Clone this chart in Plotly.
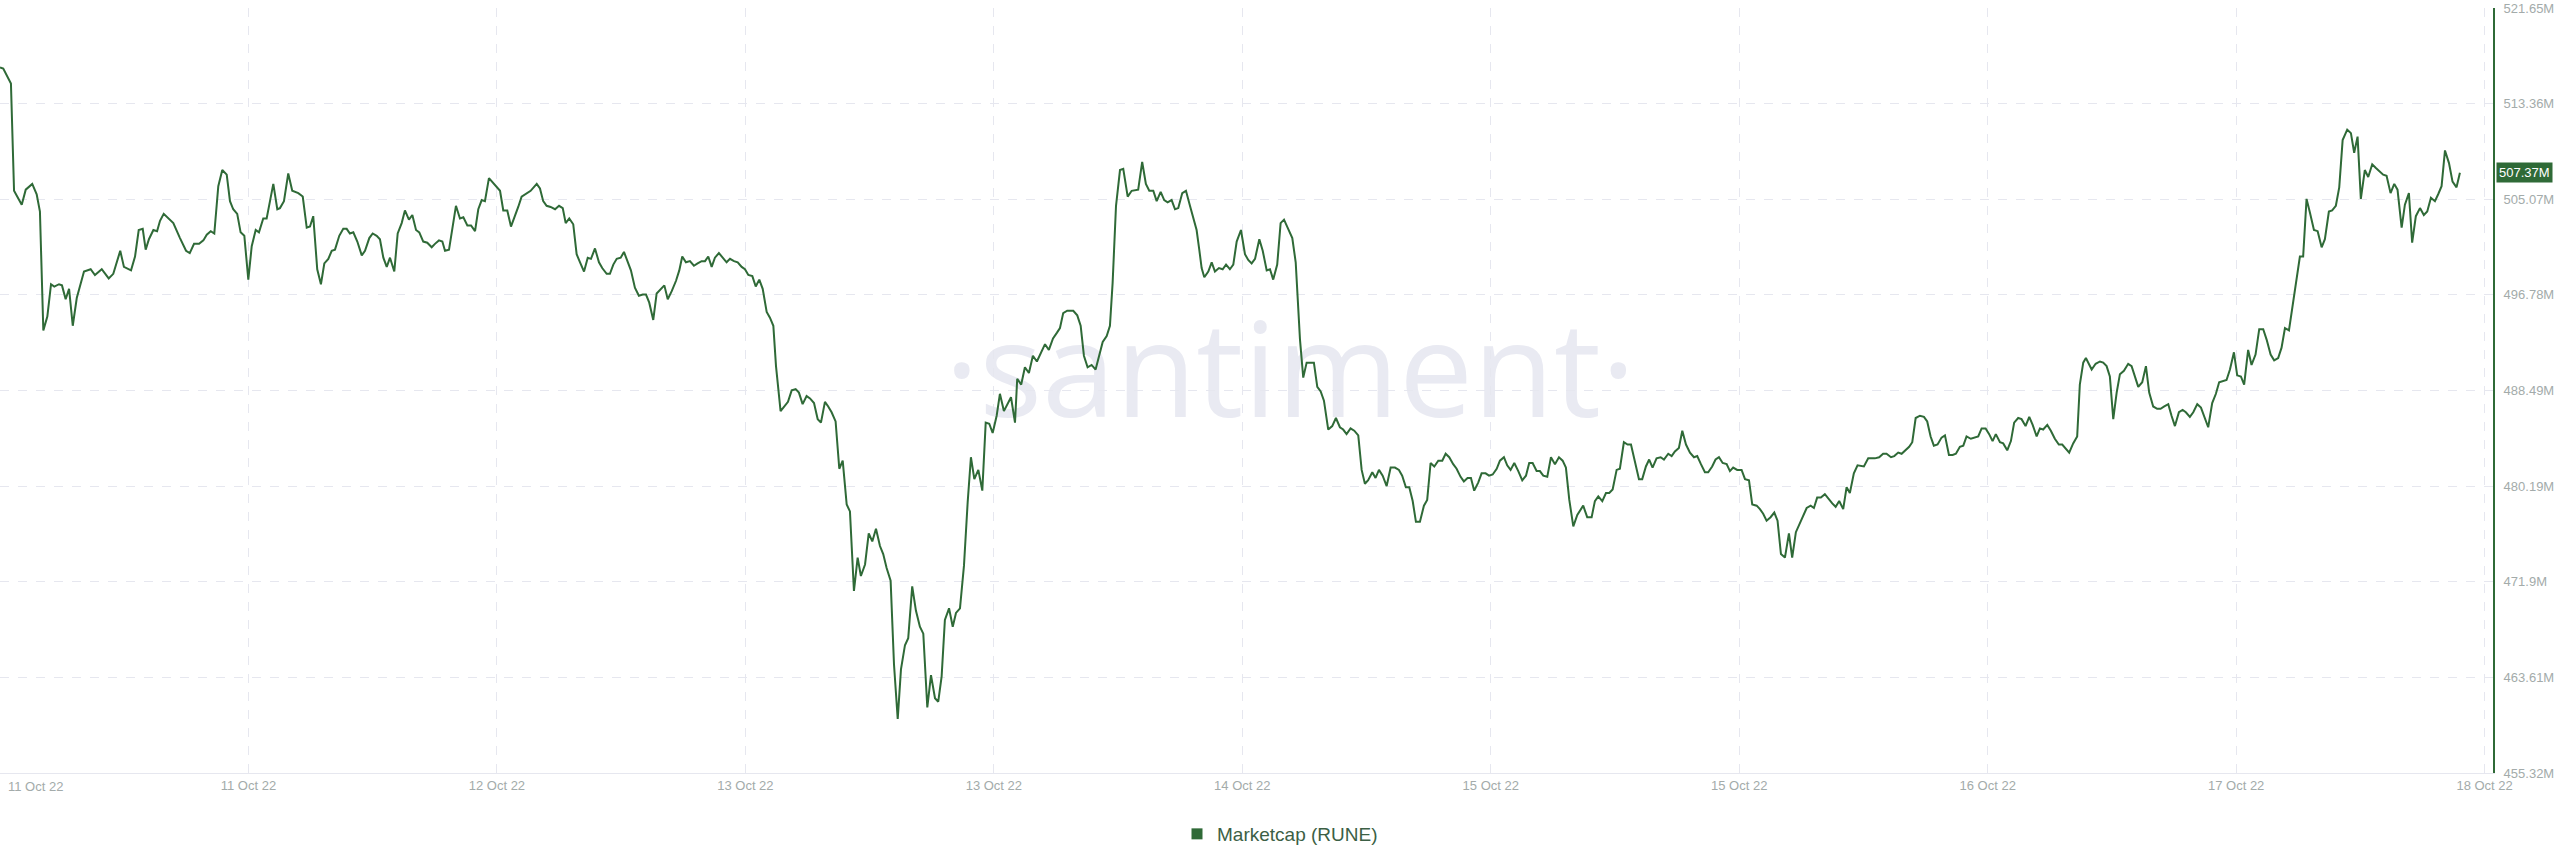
import pandas as pd
import plotly.graph_objects as go

START = pd.Timestamp("2022-10-11 00:00")

# ---- Marketcap (RUNE), millions USD; time as hours after START ----
seg1_hours = [0.00,0.22,0.74,0.95,1.47,1.74,2.18,2.48,2.70,2.93,3.20,3.45,3.67,3.99,4.19,4.44,4.67,4.92,5.19,5.68,
              6.13,6.42,6.88,7.35,7.66,8.13,8.38,8.86,9.13,9.38,9.65,9.85,10.07,10.37,10.62,10.82,11.07,11.38,11.72,12.17,
              12.58,12.83,13.12,13.46,13.75,13.98,14.25,14.49,14.76,15.03,15.33,15.55,15.77,16.04,16.27,16.52,16.79,17.02,17.29,17.51,
              17.80,18.03,18.48,18.75]
seg1_mcap = [516.5,516.4,515.1,505.8,504.6,505.9,506.4,505.5,504.0,493.7,494.9,497.7,497.5,497.7,497.6,496.4,497.3,494.1,496.5,498.8,
             499.0,498.5,499.0,498.2,498.6,500.6,499.2,498.9,500.1,502.4,502.5,500.7,501.6,502.4,502.3,503.2,503.8,503.4,503.0,501.7,
             500.6,500.4,501.2,501.2,501.5,502.0,502.3,502.1,506.2,507.6,507.2,504.9,504.2,503.8,502.2,501.9,498.1,501.0,502.4,502.2,
             503.4,503.4,506.4,504.2]

seg2_hours = [18.93,19.20,19.49,19.76,20.17,20.47,20.74,20.96,21.18,21.45,21.70,21.93,22.20,22.43,22.65,22.94,23.21,23.44,23.66,23.89,
              24.16,24.46,24.68,24.97,25.20,25.47,25.69,25.92,26.15,26.37,26.66,26.89,27.16,27.38,27.65,27.88,28.13,28.35,28.62,28.89,
              29.19,29.41,29.68,29.91,30.09,30.36,30.61,30.83,31.10,31.33,31.60,31.85,32.12,32.34,32.57,32.79,33.06,33.35,33.81,34.03,
              34.30,34.55,34.82,35.04,35.27,35.61,35.88,36.29,36.51,36.73,36.96,37.23,37.53,37.80,38.05,38.25,38.49,38.76,38.99]
seg2_mcap = [504.3,504.9,507.3,505.8,505.6,505.3,502.6,502.7,503.6,499.0,497.7,499.5,499.9,500.6,500.7,501.9,502.5,502.5,502.1,502.2,
             501.4,500.2,500.6,501.7,502.1,501.9,501.6,500.0,499.2,500.0,498.8,502.1,503.0,504.1,503.3,503.7,502.4,502.2,501.4,501.3,
             500.9,501.2,501.5,501.4,500.6,500.7,502.9,504.5,503.4,503.5,502.8,502.8,502.3,504.2,505.0,504.9,506.9,506.5,505.8,504.1,
             504.1,502.7,503.6,504.4,505.3,505.6,505.8,506.4,506.0,504.9,504.5,504.4,504.2,504.5,504.3,503.0,503.4,502.9,500.3]

seg3_hours = [39.22,39.49,39.74,39.96,40.23,40.50,40.72,41.02,41.24,41.47,41.70,41.97,42.19,42.41,42.66,42.93,43.20,43.46,43.68,43.90,
              44.17,44.40,44.67,44.92,45.15,45.42,45.71,45.93,46.13,46.38,46.65,46.92,47.17,47.44,47.67,47.89,48.12,48.34,48.61,48.86,
              49.13,49.36,49.63,49.88,50.15,50.37,50.60,50.87,51.10,51.34,51.57,51.84,52.06,52.29,52.47,52.78,53.01,53.28,53.53,53.80,
              54.02,54.27,54.54,54.77,55.04,55.29,55.51,55.78,56.00,56.23,56.50,56.75,56.98,57.25,57.47]
seg3_mcap = [499.6,498.8,500.0,499.9,500.8,499.6,499.1,498.6,498.6,499.4,499.9,500.0,500.5,499.7,498.9,497.4,496.7,496.8,496.8,496.1,
             494.6,496.9,497.3,497.6,496.4,497.1,498.0,498.9,500.1,499.6,499.7,499.3,499.5,499.7,499.7,500.1,499.2,500.0,500.4,500.0,
             499.6,499.9,499.7,499.6,499.2,499.0,498.5,498.4,497.5,498.1,497.3,495.3,494.8,494.1,490.6,486.7,487.1,487.5,488.5,488.6,
             488.3,487.3,488.0,487.8,487.4,486.0,485.7,487.5,487.1,486.6,485.8,481.7,482.4,478.6,478.0]

seg4_hours = [57.74,57.99,58.21,58.49,58.74,58.98,59.23,59.50,59.72,59.95,60.22,60.45,60.70,60.92,61.19,61.41,61.68,61.93,62.20,62.43,
              62.70,62.95,63.22,63.44,63.67,63.89,64.17,64.42,64.64,64.91,65.18,65.43,65.65,65.88,66.15,66.42,66.65,66.89,67.12,67.39,
              67.61,67.88,68.36,68.63,68.78,69.05,69.30,69.57,69.84,70.11,70.38,70.66,70.92,71.20,71.47]
seg4_mcap = [471.1,474.0,472.4,473.4,476.1,475.4,476.5,475.0,474.3,473.1,472.0,464.7,460.0,464.3,466.4,467.0,471.5,469.4,468.0,467.4,
             461.0,463.8,461.8,461.5,463.7,468.6,469.6,468.0,469.2,469.6,473.3,478.8,482.7,480.8,481.6,479.8,485.7,485.6,484.8,486.3,
             488.2,486.7,487.9,485.7,489.5,489.0,490.5,490.0,491.5,491.0,491.8,492.5,492.0,493.0,493.5]

seg5_hours = [71.67,71.89,72.16,72.57,72.84,73.07,73.29,73.54,73.81,74.08,74.31,74.56,74.83,75.05,75.23,75.46,75.73,75.95,76.25,76.52,
              76.96,77.23,77.48,77.71,77.98,78.21,78.48,78.72,78.95,79.22,79.45,79.67,79.94,80.19,80.46,80.73,80.91,81.09,81.25,81.43,
              81.70,81.93,82.15,82.42,82.67,82.90,83.16,83.39,83.62,83.91,84.18,84.40,84.63,84.86,85.15,85.38,85.65,85.87,86.09,86.36,
              86.59,86.82,87.11,87.38,87.61,87.74,87.90,88.12,88.35,88.84]
seg5_mcap = [493.9,495.2,495.4,495.4,495.0,494.1,491.5,490.5,490.7,490.3,491.5,492.7,493.2,494.1,497.8,504.5,507.6,507.7,505.3,505.8,
             505.9,508.3,506.4,505.8,505.8,504.9,505.7,505.0,504.8,505.0,504.2,504.3,505.6,505.8,504.5,503.3,502.4,500.7,499.1,498.3,
             498.8,499.6,498.8,499.1,499.0,499.4,499.0,499.4,501.4,502.4,500.3,499.8,499.5,499.9,501.6,500.6,498.9,499.0,498.1,499.4,
             503.0,503.3,502.5,501.7,499.6,496.4,492.9,489.6,490.9,490.9]

seg6_hours = [89.07,89.30,89.52,89.81,90.08,90.33,90.60,90.82,91.05,91.32,91.57,91.84,92.07,92.29,92.51,92.79,93.01,93.24,93.49,93.76,
              94.03,94.32,94.59,94.81,95.06,95.29,95.52,95.74,96.01,96.28,96.50,96.73,96.98,97.25,97.52,97.75,97.99,98.26,98.49,98.76,
              98.98,99.23,99.46,99.68,99.95,100.18,100.45,100.68,100.93,101.20,101.42,101.69,101.91,102.14,102.39,102.66,102.93,103.18,103.40,103.63,
              103.90,104.12,104.35,104.62,104.87,105.14,105.41,105.66,105.88,106.11,106.38,106.65,107.05,107.32,107.62,107.84,108.07,108.34,108.59]
seg6_mcap = [488.8,488.4,487.6,485.1,485.4,486.1,485.3,485.1,484.7,485.2,485.0,484.6,481.6,480.4,480.7,481.4,480.9,481.6,481.1,480.2,
             481.8,481.8,481.6,481.1,480.1,480.1,478.9,477.1,477.1,478.5,479.0,482.2,481.9,482.4,482.4,483.0,482.7,482.1,481.7,481.0,
             480.6,480.9,480.9,479.8,480.5,481.3,481.3,481.1,481.2,481.7,482.4,482.7,482.0,481.6,482.2,481.5,480.7,481.1,482.2,482.2,
             481.5,481.5,481.1,481.0,482.7,482.1,482.7,482.4,481.8,479.0,476.7,477.7,478.5,477.5,477.5,478.9,479.3,478.9,479.6]

seg7_hours = [108.81,109.04,109.31,109.53,109.80,110.05,110.28,110.55,110.82,111.04,111.29,111.51,111.74,112.01,112.29,112.51,112.80,113.03,113.25,113.52,
              113.75,114.00,114.27,114.54,114.76,115.01,115.28,115.50,115.77,116.00,116.23,116.48,116.75,116.97,117.19,117.46,117.76,117.99,118.26,118.48,
              118.78,119.00,119.22,119.45,119.72,119.97,120.19,120.42,120.69,120.96,121.18,121.43,121.70,121.93,122.16,122.43,122.65,122.87,123.12,123.39,
              123.62,123.89,124.12,124.36,124.63,124.86,125.08,125.35,125.60]
seg7_mcap = [479.6,479.9,481.6,481.7,484.0,483.8,483.8,482.2,480.8,480.8,481.9,482.5,481.8,482.6,482.7,482.5,483.0,482.8,483.2,483.5,
             485.0,483.8,483.1,482.7,482.8,482.1,481.4,481.4,481.9,482.5,482.7,482.2,482.1,481.5,481.8,481.6,481.6,480.8,480.7,478.6,
             478.5,478.2,477.8,477.2,477.5,477.9,477.2,474.3,474.0,476.1,474.0,476.2,477.0,477.7,478.3,478.5,478.3,479.2,479.2,479.5,
             479.1,478.7,478.4,478.9,478.2,480.1,479.6,481.3,482.0]

seg8_hours = [126.03,126.32,126.77,127.06,127.33,127.56,127.86,128.08,128.35,128.58,128.85,129.09,129.30,129.53,129.82,130.09,130.31,130.54,130.76,131.01,
              131.28,131.51,131.78,132.03,132.25,132.52,132.75,132.97,133.26,133.53,133.76,133.99,134.26,134.50,134.73,134.95,135.23,135.45,135.72,135.97,
              136.19,136.46,136.69,136.96,137.21,137.44,137.71,137.93,138.15,138.43,138.67,138.94,139.21,139.44,139.69,139.91,140.18,140.45,140.63,140.86,
              141.04,141.43,141.70,141.99,142.21,142.44,142.66,142.89,143.12]
seg8_mcap = [481.9,482.6,482.6,482.7,483.0,483.0,482.7,482.8,483.1,483.0,483.3,483.6,484.0,486.1,486.3,486.2,485.8,484.5,483.7,483.8,
             484.4,484.6,482.9,482.9,483.0,483.6,483.7,484.5,484.3,484.4,484.5,485.2,485.2,484.7,484.1,484.7,484.0,483.9,483.3,484.1,
             485.7,486.1,486.0,485.4,486.2,485.5,484.5,485.2,485.1,485.5,485.0,484.3,483.8,483.8,483.4,483.1,483.9,484.5,489.0,490.9,
             491.3,490.3,490.8,491.0,490.9,490.6,489.7,486.0,488.3]

seg9_hours = [143.34,143.61,143.90,144.13,144.58,144.85,145.10,145.32,145.59,145.86,146.09,146.34,146.61,146.83,147.06,147.33,147.58,147.80,148.07,148.30,
              148.57,148.82,149.09,149.31,149.58,149.83,150.05,150.32,150.55,150.78,151.05,151.27,151.52,151.74,152.01,152.24,152.51,152.76,153.03,153.26,
              153.53,153.77,154.04,154.27,154.50,154.77,155.02,155.24,155.51,155.73,155.96,156.19,156.46,156.71,156.98,157.20,157.47,157.69,157.94,158.17,
              158.40,158.71,158.96,159.18,159.41,159.63,159.90,160.13,160.40,160.63,160.87,161.14,161.37,161.64,161.89,162.11,162.39,162.61,162.88,163.10,
              163.35,163.63,163.89,164.12,164.37,164.64,164.86,165.09,165.32,165.59,165.83,166.10,166.33]
seg9_mcap = [489.9,490.2,490.8,490.6,488.8,489.2,490.6,488.3,487.1,486.9,486.9,487.1,487.3,486.3,485.4,486.6,486.8,486.6,486.2,486.6,
             487.3,487.0,486.1,485.3,487.4,488.2,489.2,489.3,489.4,490.3,491.8,489.8,489.7,489.0,492.0,490.7,491.6,493.8,493.8,492.9,
             491.6,491.1,491.3,492.2,493.9,493.7,495.8,498.0,500.1,500.1,505.1,503.9,502.4,502.3,500.9,501.6,504.0,504.1,504.5,506.1,
             510.2,511.1,510.8,509.1,510.5,505.1,507.6,507.0,508.1,507.8,507.5,507.2,507.1,505.6,506.4,505.9,502.6,504.6,505.6,501.3,
             503.6,504.3,503.7,504.0,505.2,504.9,505.5,506.2,509.3,508.2,506.6,506.1,507.37]

# ---- axes ----
x_tick_dates = ["2022-10-11 00:00", "2022-10-11 16:48", "2022-10-12 09:36", "2022-10-13 02:24",
                "2022-10-13 19:12", "2022-10-14 12:00", "2022-10-15 04:48", "2022-10-15 21:36",
                "2022-10-16 14:24", "2022-10-17 07:12", "2022-10-18 00:00"]
x_tick_text = ["11 Oct 22", "11 Oct 22", "12 Oct 22", "13 Oct 22", "13 Oct 22", "14 Oct 22",
               "15 Oct 22", "15 Oct 22", "16 Oct 22", "17 Oct 22", "18 Oct 22"]
y_ticks = [455.32, 463.61, 471.90, 480.19, 488.49, 496.78, 505.07, 513.36, 521.65]
y_tick_text = ["455.32M", "463.61M", "471.9M", "480.19M", "488.49M", "496.78M", "505.07M", "513.36M", "521.65M"]
x_end = "2022-10-18 00:34"
last_label = "507.37M"
series_name = "Marketcap (RUNE)"

hours = seg1_hours + seg2_hours + seg3_hours + seg4_hours + seg5_hours + seg6_hours + seg7_hours + seg8_hours + seg9_hours
mcap = seg1_mcap + seg2_mcap + seg3_mcap + seg4_mcap + seg5_mcap + seg6_mcap + seg7_mcap + seg8_mcap + seg9_mcap
for hs, ms in [(seg1_hours, seg1_mcap), (seg2_hours, seg2_mcap), (seg3_hours, seg3_mcap), (seg4_hours, seg4_mcap),
               (seg5_hours, seg5_mcap), (seg6_hours, seg6_mcap), (seg7_hours, seg7_mcap), (seg8_hours, seg8_mcap),
               (seg9_hours, seg9_mcap)]:
    assert len(hs) == len(ms), (len(hs), len(ms), hs[0])
times = [START + pd.Timedelta(hours=h) for h in hours]

LINE = "#2f6a37"
GRID = "#e6e7ef"
TICKC = "#a3abaa"
FONT = "Liberation Sans, Arial, sans-serif"

fig = go.Figure()
fig.add_trace(go.Scatter(x=times, y=mcap, mode="lines", line=dict(color=LINE, width=2),
                         showlegend=False, hoverinfo="skip"))
fig.add_trace(go.Scatter(x=[None], y=[None], mode="markers", name=series_name,
                         marker=dict(symbol="square", size=11, color=LINE), showlegend=True))

fig.update_layout(
    width=2560, height=867,
    margin=dict(l=0, r=67, t=8, b=94, autoexpand=False),
    paper_bgcolor="white", plot_bgcolor="white",
    font=dict(family=FONT),
    xaxis=dict(type="date", range=[START, x_end], tickmode="array", tickvals=x_tick_dates,
               ticktext=[""] + x_tick_text[1:], showgrid=True, gridcolor=GRID, griddash="dash",
               gridwidth=1, showline=True, linecolor=GRID, linewidth=1, ticks="", zeroline=False,
               automargin=False, tickfont=dict(size=13, color=TICKC)),
    yaxis=dict(side="right", range=[y_ticks[0], y_ticks[-1]], tickmode="array", tickvals=y_ticks,
               ticktext=y_tick_text, showgrid=True, gridcolor=GRID, griddash="dash", gridwidth=1,
               showline=True, linecolor=LINE, linewidth=2, ticks="", ticklabelstandoff=6,
               automargin=False, zeroline=False, tickfont=dict(size=13, color=TICKC)),
    legend=dict(orientation="h", x=0.5, xref="container", xanchor="center", y=1 - 834 / 867,
                yref="container", yanchor="middle", font=dict(size=19, color="#3c5f45"),
                itemwidth=30),
    showlegend=True,
)

# first x label (left-aligned at the plot edge)
fig.add_annotation(x=x_tick_dates[0], y=0, xref="x", yref="paper", xanchor="left", yanchor="top",
                   text=x_tick_text[0], showarrow=False, xshift=6, yshift=-4,
                   font=dict(size=13, color=TICKC, family=FONT))
# last value tag on the right axis
fig.add_annotation(x=1, y=mcap[-1], xref="paper", yref="y", xanchor="left", yanchor="middle",
                   text=last_label, showarrow=False, xshift=3, bgcolor=LINE, borderpad=2,
                   font=dict(size=13, color="white", family=FONT))
# watermark behind the data
fig.add_shape(type="rect", xref="paper", yref="paper", x0=0.42, x1=0.615, y0=0.44, y1=0.60,
              line=dict(width=0), fillcolor="rgba(0,0,0,0)", layer="below",
              label=dict(text="·santiment·", textposition="middle center",
                         font=dict(size=132, color="#e9eaf2", family="Open Sans")))

fig.write_html("out.html", config={"displayModeBar": False, "staticPlot": True},
               post_script="document.body.style.margin='0px';")
